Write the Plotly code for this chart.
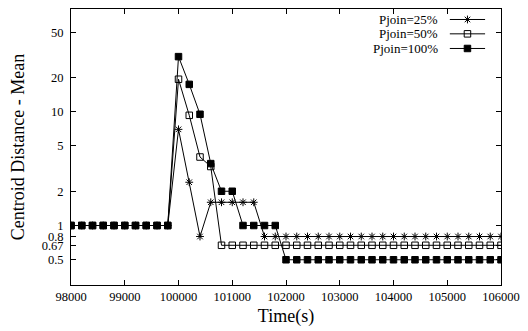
import plotly.graph_objects as go

time_s = [98000, 98200, 98400, 98600, 98800, 99000, 99200, 99400, 99600, 99800,
          100000, 100200, 100400, 100600, 100800, 101000, 101200, 101400, 101600, 101800,
          102000, 102200, 102400, 102600, 102800, 103000, 103200, 103400, 103600, 103800,
          104000, 104200, 104400, 104600, 104800, 105000, 105200, 105400, 105600, 105800,
          106000]

pjoin25 = [1, 1, 1, 1, 1, 1, 1, 1, 1, 1,
           7.0, 2.4, 0.8, 1.6, 1.6, 1.6, 1.6, 1.6, 0.8, 0.8,
           0.8, 0.8, 0.8, 0.8, 0.8, 0.8, 0.8, 0.8, 0.8, 0.8,
           0.8, 0.8, 0.8, 0.8, 0.8, 0.8, 0.8, 0.8, 0.8, 0.8,
           0.8]

pjoin50 = [1, 1, 1, 1, 1, 1, 1, 1, 1, 1,
           19.3, 9.3, 4.0, 3.3, 0.67, 0.67, 0.67, 0.67, 0.67, 0.67,
           0.67, 0.67, 0.67, 0.67, 0.67, 0.67, 0.67, 0.67, 0.67, 0.67,
           0.67, 0.67, 0.67, 0.67, 0.67, 0.67, 0.67, 0.67, 0.67, 0.67,
           0.67]

pjoin100 = [1, 1, 1, 1, 1, 1, 1, 1, 1, 1,
            30.5, 17.4, 9.5, 3.5, 2.0, 2.0, 1, 1, 1, 1,
            0.5, 0.5, 0.5, 0.5, 0.5, 0.5, 0.5, 0.5, 0.5, 0.5,
            0.5, 0.5, 0.5, 0.5, 0.5, 0.5, 0.5, 0.5, 0.5, 0.5,
            0.5]

series_names = ["Pjoin=25%", "Pjoin=50%", "Pjoin=100%"]
series_values = [pjoin25, pjoin50, pjoin100]
series_symbols = ["asterisk-open", "square-open", "square"]

x_ticks = [98000, 99000, 100000, 101000, 102000, 103000, 104000, 105000, 106000]
y_ticks = [0.5, 0.67, 0.8, 1, 2, 5, 10, 20, 50]
y_ticktext = ["0.5", "0.67", "0.8", "1", "2", "5", "10", "20", "50"]

FONT = "Liberation Serif"

fig = go.Figure()
for name, vals, sym in zip(series_names, series_values, series_symbols):
    fig.add_trace(go.Scatter(
        x=time_s, y=vals, mode="lines+markers", name=name,
        line=dict(color="black", width=1),
        marker=dict(symbol=sym, size=6.5, color="black",
                    line=dict(color="black", width=1)),
        showlegend=False,
    ))

# custom gnuplot-style legend (text on the left, sample on the right)
legend_rows = [0.962, 0.910, 0.857]
for name, sym, yy in zip(series_names, series_symbols, legend_rows):
    fig.add_trace(go.Scatter(
        x=[0.881, 0.963], y=[yy, yy], mode="lines", xaxis="x2", yaxis="y2",
        line=dict(color="black", width=1), showlegend=False, hoverinfo="skip"))
    fig.add_trace(go.Scatter(
        x=[0.922], y=[yy], mode="markers", xaxis="x2", yaxis="y2",
        marker=dict(symbol=sym, size=6.5, color="black",
                    line=dict(color="black", width=1)),
        showlegend=False, hoverinfo="skip"))
    fig.add_annotation(x=0.858, y=yy, xref="paper", yref="paper",
                       text=name, showarrow=False, xanchor="right", yanchor="middle",
                       font=dict(family=FONT, size=13, color="black"))

fig.update_layout(
    width=528, height=331,
    margin=dict(l=71, r=19, t=8, b=44),
    paper_bgcolor="white", plot_bgcolor="white",
    font=dict(family=FONT, size=12.5, color="black"),
    xaxis=dict(
        range=[98000, 106000], tickvals=x_ticks, tickformat="d",
        ticks="inside", ticklen=5, tickcolor="black",
        tickfont=dict(family=FONT, size=12.5),
        showline=True, linecolor="black", linewidth=1, mirror="ticks",
        showgrid=False, zeroline=False,
        title=dict(text="Time(s)", font=dict(family=FONT, size=18), standoff=6),
    ),
    yaxis=dict(
        type="log", range=[-0.523, 1.903],
        tickvals=y_ticks, ticktext=y_ticktext,
        ticks="inside", ticklen=5, tickcolor="black",
        tickfont=dict(family=FONT, size=12.5),
        ticklabelstandoff=4,
        showline=True, linecolor="black", linewidth=1, mirror="ticks",
        showgrid=False, zeroline=False,
        title=dict(text="Centroid Distance - Mean", font=dict(family=FONT, size=18), standoff=12),
    ),
    xaxis2=dict(domain=[0, 1], range=[0, 1], overlaying="x", visible=False, fixedrange=True),
    yaxis2=dict(domain=[0, 1], range=[0, 1], overlaying="y", visible=False, fixedrange=True),
)

fig.write_html("out.html")
